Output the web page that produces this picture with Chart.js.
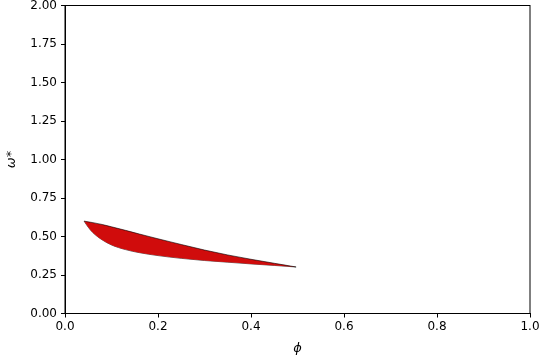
<!DOCTYPE html>
<html>
<head>
<meta charset="utf-8">
<script src="https://cdn.jsdelivr.net/npm/chart.js@4/dist/chart.umd.min.js"></script>
<style>
  html, body { margin: 0; padding: 0; background: #fff; }
  #wrap { width: 540px; height: 360px; }
</style>
</head>
<body>
<div id="wrap"><canvas id="chart"></canvas></div>
<script>
// phi values shared by both edges of the region
const phi = [0.041, 0.05, 0.06, 0.08, 0.1, 0.13, 0.16, 0.2, 0.25, 0.3, 0.35, 0.4, 0.45, 0.497];
// upper and lower edge of the omega* band
const omegaUpper = [0.600, 0.595, 0.590, 0.578, 0.563, 0.540, 0.516, 0.485, 0.448, 0.412, 0.380, 0.352, 0.326, 0.302];
const omegaLower = [0.600, 0.560, 0.525, 0.478, 0.445, 0.415, 0.395, 0.376, 0.358, 0.344, 0.333, 0.322, 0.312, 0.302];

const xTicks = [0, 0.2, 0.4, 0.6, 0.8, 1.0];
const yTicks = [0, 0.25, 0.5, 0.75, 1.0, 1.25, 1.5, 1.75, 2.0];

const toPoints = ys => phi.map((x, i) => ({ x: x, y: ys[i] }));

// draws the box round the plot area, like matplotlib spines
const frame = {
  id: 'frame',
  afterDraw(chart) {
    const { ctx, chartArea: a } = chart;
    ctx.save();
    ctx.strokeStyle = '#000';
    ctx.lineWidth = 1;
    ctx.strokeRect(a.left, a.top, a.right - a.left, a.bottom - a.top);
    ctx.restore();
  }
};

Chart.defaults.font.family = '"DejaVu Sans", sans-serif';
Chart.defaults.font.size = 12;
Chart.defaults.color = '#000';

new Chart(document.getElementById('chart'), {
  type: 'scatter',
  data: {
    datasets: [
      {
        data: toPoints(omegaUpper),
        showLine: true,
        borderColor: '#000',
        borderWidth: 0.6,
        backgroundColor: 'rgb(208,12,12)',
        pointRadius: 0,
        cubicInterpolationMode: 'monotone',
        fill: '+1'
      },
      {
        data: toPoints(omegaLower),
        showLine: true,
        borderColor: '#000',
        borderWidth: 0.6,
        pointRadius: 0,
        cubicInterpolationMode: 'monotone',
        fill: false
      }
    ]
  },
  options: {
    responsive: true,
    maintainAspectRatio: false,
    animation: false,
    layout: { padding: { top: 5.5, right: 10, left: 0, bottom: 0 } },
    plugins: {
      legend: { display: false },
      tooltip: { enabled: false }
    },
    scales: {
      x: {
        type: 'linear',
        min: 0,
        max: 1,
        afterBuildTicks: axis => { axis.ticks = xTicks.map(v => ({ value: v })); },
        afterFit: axis => {
          axis.height = 46.5;
          axis.paddingLeft = 0;
          axis.paddingRight = 0;
        },
        ticks: { callback: v => v.toFixed(1), padding: 2, maxRotation: 0 },
        grid: { drawOnChartArea: false, tickLength: 4, color: '#000' },
        border: { color: '#000' },
        title: { display: true, text: 'ϕ', font: { size: 13, style: 'italic' }, padding: { top: 2 } }
      },
      y: {
        min: 0,
        max: 2,
        afterBuildTicks: axis => { axis.ticks = yTicks.map(v => ({ value: v })); },
        afterFit: axis => {
          axis.width = 65;
          axis.paddingTop = 0;
          axis.paddingBottom = 0;
        },
        ticks: { callback: v => v.toFixed(2), padding: 4 },
        grid: { drawOnChartArea: false, tickLength: 4, color: '#000' },
        border: { color: '#000' },
        title: { display: true, text: 'ω*', font: { size: 13, style: 'italic' }, padding: { bottom: 0 } }
      }
    }
  },
  plugins: [frame]
});
</script>
</body>
</html>
